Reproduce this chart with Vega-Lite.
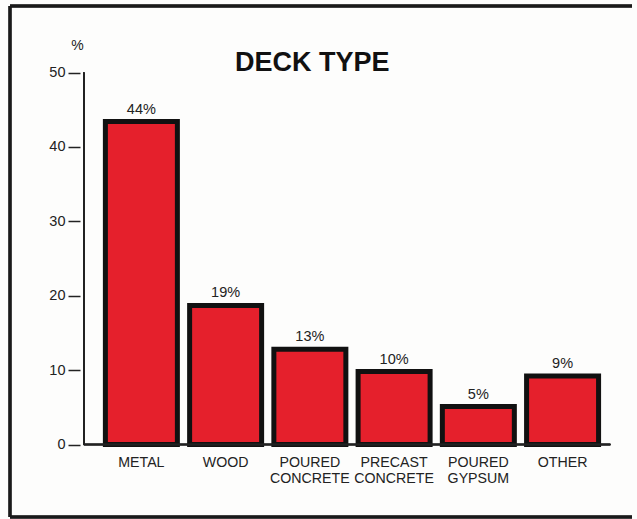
{
  "$schema": "https://vega.github.io/schema/vega-lite/v6.json",
  "width": 632,
  "height": 511,
  "autosize": {"type": "none"},
  "padding": {"left": 5, "top": 6, "right": 0, "bottom": 2},
  "background": "#fdfdfc",
  "title": {
    "text": "DECK TYPE",
    "font": "Liberation Sans",
    "fontSize": 27,
    "fontWeight": "bold",
    "color": "#111111",
    "anchor": "start",
    "frame": "group",
    "dx": 230,
    "dy": 76
  },
  "data": {
    "values": [
      {"type": "METAL", "idx": 0, "value": 43.4, "label": "44%"},
      {"type": "WOOD", "idx": 1, "value": 18.7, "label": "19%"},
      {"type": "POURED CONCRETE", "idx": 2, "value": 12.8, "label": "13%"},
      {"type": "PRECAST CONCRETE", "idx": 3, "value": 9.8, "label": "10%"},
      {"type": "POURED GYPSUM", "idx": 4, "value": 5.1, "label": "5%"},
      {"type": "OTHER", "idx": 5, "value": 9.2, "label": "9%"}
    ]
  },
  "layer": [
    {
      "mark": {"type": "bar", "width": 72, "color": "#e5202c", "stroke": "#111111", "strokeWidth": 5},
      "encoding": {
        "x": {"field": "idx", "type": "quantitative", "scale": {"domain": [-1.5596, 5.824], "nice": false, "zero": false}, "axis": null},
        "y": {
          "field": "value",
          "type": "quantitative",
          "scale": {"domain": [-9.74, 58.94], "nice": false, "zero": false},
          "axis": {
            "values": [0, 10, 20, 30, 40, 50],
            "domain": false,
            "grid": false,
            "offset": -75,
            "tickSize": 12,
            "tickWidth": 1.5,
            "tickColor": "#222222",
            "labelFont": "Liberation Sans",
            "labelFontSize": 14.5,
            "labelColor": "#222222",
            "labelPadding": 3,
            "title": "%",
            "titleFont": "Liberation Sans",
            "titleFontSize": 14,
            "titleFontWeight": "normal",
            "titleColor": "#222222",
            "titleAngle": 0,
            "titleX": -3,
            "titleY": 39,
            "titleAlign": "center",
            "titleBaseline": "middle"
          }
        }
      }
    },
    {
      "mark": {"type": "text", "baseline": "bottom", "dy": -5, "font": "Liberation Sans", "fontSize": 14.5, "color": "#222222"},
      "encoding": {
        "x": {"field": "idx", "type": "quantitative"},
        "y": {"field": "value", "type": "quantitative"},
        "text": {"field": "label"}
      }
    },
    {
      "mark": {"type": "text", "baseline": "top", "dy": 11, "lineBreak": " ", "lineHeight": 16, "font": "Liberation Sans", "fontSize": 14.2, "color": "#222222"},
      "encoding": {
        "x": {"field": "idx", "type": "quantitative"},
        "y": {"datum": 0},
        "text": {"field": "type"}
      }
    },
    {
      "mark": {"type": "rule", "color": "#222222", "strokeWidth": 1.5},
      "encoding": {
        "x": {"datum": -0.683},
        "x2": {"datum": 5.567},
        "y": {"datum": 0}
      }
    },
    {
      "mark": {"type": "rule", "color": "#222222", "strokeWidth": 1.5},
      "encoding": {
        "x": {"datum": -0.683},
        "y": {"datum": 0},
        "y2": {"datum": 50}
      }
    },
    {
      "mark": {"type": "rule", "color": "#1a1a1a", "strokeWidth": 2.5},
      "encoding": {
        "x": {"datum": -1.5596},
        "y": {"datum": -9.74},
        "y2": {"datum": 58.94}
      }
    },
    {
      "mark": {"type": "rule", "color": "#1a1a1a", "strokeWidth": 2.5},
      "encoding": {
        "x": {"datum": -1.5596},
        "x2": {"datum": 5.824},
        "y": {"datum": 58.94}
      }
    },
    {
      "mark": {"type": "rule", "color": "#1a1a1a", "strokeWidth": 2.5},
      "encoding": {
        "x": {"datum": -1.5596},
        "x2": {"datum": 5.824},
        "y": {"datum": -9.74}
      }
    }
  ],
  "config": {
    "view": {"stroke": null}
  }
}
